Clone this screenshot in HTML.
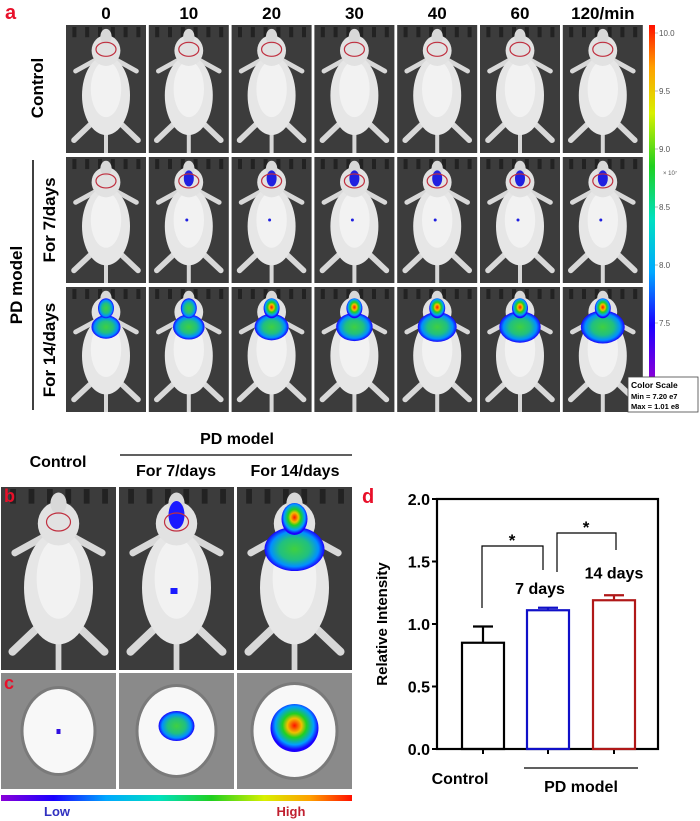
<!DOCTYPE html>
<html><head><meta charset="utf-8"><style>
html,body{margin:0;padding:0;background:#fff;width:700px;height:821px;overflow:hidden}
svg{display:block;font-family:"Liberation Sans",Arial,sans-serif}
</style></head><body>
<svg id="fig" width="700" height="821" viewBox="0 0 700 821">
<defs>
<linearGradient id="rainV" x1="0" y1="1" x2="0" y2="0">
<stop offset="0" stop-color="#8a00d8"/><stop offset="0.15" stop-color="#1a00ff"/><stop offset="0.3" stop-color="#00a8ff"/><stop offset="0.45" stop-color="#00e0c0"/><stop offset="0.6" stop-color="#20d020"/><stop offset="0.75" stop-color="#d8f000"/><stop offset="0.88" stop-color="#ffa000"/><stop offset="1" stop-color="#ff1000"/>
</linearGradient>
<linearGradient id="rainH" x1="0" y1="0" x2="1" y2="0">
<stop offset="0" stop-color="#8a00d8"/><stop offset="0.15" stop-color="#1a00ff"/><stop offset="0.3" stop-color="#00a8ff"/><stop offset="0.45" stop-color="#00e0c0"/><stop offset="0.6" stop-color="#20d020"/><stop offset="0.75" stop-color="#d8f000"/><stop offset="0.88" stop-color="#ffa000"/><stop offset="1" stop-color="#ff1000"/>
</linearGradient>
<radialGradient id="heat" cx="0.5" cy="0.45" r="0.5">
<stop offset="0" stop-color="#ff1000"/><stop offset="0.3" stop-color="#f0c000"/><stop offset="0.5" stop-color="#20d020"/><stop offset="0.8" stop-color="#00a0ff"/><stop offset="1" stop-color="#1a00ff"/>
</radialGradient>
<radialGradient id="heatG" cx="0.5" cy="0.5" r="0.5">
<stop offset="0" stop-color="#40d040"/><stop offset="0.5" stop-color="#20c080"/><stop offset="0.8" stop-color="#0090ff"/><stop offset="1" stop-color="#1a00ff"/>
</radialGradient>
</defs>
<g id="panelA"></g>
<g id="panelBC"></g>
<g id="chart"></g>
</svg>
<script>
// ---- chart data ----
const categories = ["Control", "7 days", "14 days"];
const values = [0.85, 1.11, 1.19];
const errors = [0.13, 0.02, 0.04];
const barColors = ["#000000", "#1010c8", "#b01818"];
const yTicks = [0.0, 0.5, 1.0, 1.5, 2.0];
const yTickLabels = ["0.0", "0.5", "1.0", "1.5", "2.0"];
const timeLabels = ["0","10","20","30","40","60","120/min"];
const scaleTicks = [10.0, 9.5, 9.0, 8.5, 8.0, 7.5];

const NS = "http://www.w3.org/2000/svg";
function el(parent, tag, attrs, text){
  const e = document.createElementNS(NS, tag);
  for (const k in attrs) e.setAttribute(k, attrs[k]);
  if (text !== undefined) e.textContent = text;
  parent.appendChild(e);
  return e;
}

function mouse(g, x, y, w, h){
  const c = "#d8d8d8";
  const cx = x + w/2;
  for (let i=0;i<6;i++){
    el(g,"rect",{x:x+w*0.08+i*w*0.16,y:y+2,width:w*0.05,height:h*0.08,fill:"#222"});
  }
  el(g,"line",{x1:cx,y1:y+h*0.8,x2:cx,y2:y+h,stroke:c,"stroke-width":w*0.05});
  el(g,"path",{d:`M${cx-w*0.2},${y+h*0.78} L${x+w*0.1},${y+h*0.9} M${cx+w*0.2},${y+h*0.78} L${x+w*0.9},${y+h*0.9}`,stroke:c,"stroke-width":w*0.07,fill:"none","stroke-linecap":"round"});
  el(g,"path",{d:`M${cx-w*0.12},${y+h*0.27} L${x+w*0.12},${y+h*0.36} M${cx+w*0.12},${y+h*0.27} L${x+w*0.88},${y+h*0.36}`,stroke:c,"stroke-width":w*0.06,fill:"none","stroke-linecap":"round"});
  el(g,"ellipse",{cx:cx,cy:y+h*0.55,rx:w*0.3,ry:h*0.31,fill:"#e6e6e6"});
  el(g,"ellipse",{cx:cx,cy:y+h*0.5,rx:w*0.19,ry:h*0.22,fill:"#f2f2f2"});
  el(g,"ellipse",{cx:cx,cy:y+h*0.2,rx:w*0.18,ry:h*0.12,fill:"#e2e2e2"});
  el(g,"ellipse",{cx:cx,cy:y+h*0.09,rx:w*0.07,ry:h*0.06,fill:"#d8d8d8"});
}

// ---- panel a ----
const A = document.getElementById("panelA");
el(A,"text",{x:5,y:19,fill:"#e8102a","font-size":20,"font-weight":"bold"},"a");
const tileX0 = 66, tileStep = 82.8, tileW = 80;
const rowsY = [[25,128],[157,126],[287,125]];
for (let c=0;c<7;c++){
  const t = el(A,"text",{x:tileX0+c*tileStep+tileW/2,y:19,"text-anchor":"middle","font-size":17,"font-weight":"bold"},timeLabels[c]);
  
  
}
for (let r=0;r<3;r++){
  for (let c=0;c<7;c++){
    const x = tileX0+c*tileStep, y=rowsY[r][0], h=rowsY[r][1];
    const g = el(A,"g",{});
    
    
    el(g,"rect",{x:x,y:y,width:tileW,height:h,fill:"#3c3c3c"});
    mouse(g,x,y,tileW,h);
    const cx=x+tileW/2;
    if (r===1 && c>0){
      el(g,"ellipse",{cx:cx,cy:y+h*0.17,rx:5,ry:8,fill:"#2020e0"});
      el(g,"circle",{cx:cx-2,cy:y+h*0.5,r:1.5,fill:"#2020e0"});
    }
    if (r===2){
      const s = 0.6+0.07*c;
      el(g,"ellipse",{cx:cx,cy:y+h*0.32,rx:tileW*0.22*s+4,ry:h*0.09*s+5,fill:"url(#heatG)"});
      el(g,"ellipse",{cx:cx,cy:y+h*0.17,rx:8,ry:10,fill:c>1?"url(#heat)":"url(#heatG)"});
    }
    if (r<2) el(g,"ellipse",{cx:cx,cy:y+h*0.19,rx:10,ry:7,fill:"none",stroke:"#c03040","stroke-width":1.2});
  }
}
const rl = [["Control",88],["For 7/days",220],["For 14/days",350]];
rl.forEach((d,i)=>{
  const t=el(A,"text",{transform:`translate(${i==0?43:55},${d[1]}) rotate(-90)`,"text-anchor":"middle","font-size":17,"font-weight":"bold"},d[0]);
  
  
});
el(A,"line",{x1:33,y1:160,x2:33,y2:410,stroke:"#000","stroke-width":1.5});
const pdA = el(A,"text",{transform:"translate(22,285) rotate(-90)","text-anchor":"middle","font-size":17,"font-weight":"bold"},"PD model");

el(A,"rect",{x:649,y:25,width:6,height:353,fill:"url(#rainV)"});
scaleTicks.forEach(v=>{
  const yy = 33 + (10.0-v)/0.5*58;
  el(A,"line",{x1:655,y1:yy,x2:658,y2:yy,stroke:"#888","stroke-width":0.6});
  el(A,"text",{x:659,y:yy+3,"font-size":8,fill:"#555"},v.toFixed(1));
});
el(A,"text",{x:663,y:175,"font-size":6,fill:"#555"},"× 10⁷");
const box = el(A,"g",{});


el(box,"rect",{x:628,y:377,width:70,height:35,fill:"#fff",stroke:"#444","stroke-width":0.8});
el(box,"text",{x:631,y:388,"font-size":8.5,"font-weight":"bold"},"Color Scale");
el(box,"text",{x:631,y:399,"font-size":7.5,"font-weight":"bold"},"Min = 7.20 e7");
el(box,"text",{x:631,y:409,"font-size":7.5,"font-weight":"bold"},"Max = 1.01 e8");

// ---- panels b & c ----
const B = document.getElementById("panelBC");
el(B,"text",{x:58,y:467,"text-anchor":"middle","font-size":16,"font-weight":"bold"},"Control");
el(B,"text",{x:237,y:444,"text-anchor":"middle","font-size":16,"font-weight":"bold"},"PD model");
el(B,"line",{x1:120,y1:455,x2:352,y2:455,stroke:"#000","stroke-width":1.2});
el(B,"text",{x:176,y:476,"text-anchor":"middle","font-size":16,"font-weight":"bold"},"For 7/days");
el(B,"text",{x:295,y:476,"text-anchor":"middle","font-size":16,"font-weight":"bold"},"For 14/days");
const bx=[1,119,237], bw=115;
for (let i=0;i<3;i++){
  const g=el(B,"g",{});
  
  
  el(g,"rect",{x:bx[i],y:487,width:bw,height:183,fill:"#3c3c3c"});
  mouse(g,bx[i],487,bw,183);
  const cx=bx[i]+bw/2;
  if(i===1){el(g,"ellipse",{cx:cx,cy:487+28,rx:8,ry:14,fill:"#1a1aff"});el(g,"rect",{x:cx-6,y:588,width:7,height:6,fill:"#1a1aff"});}
  if(i===2){el(g,"ellipse",{cx:cx,cy:487+62,rx:30,ry:22,fill:"url(#heatG)"});el(g,"ellipse",{cx:cx,cy:487+32,rx:13,ry:16,fill:"url(#heat)"});}
  if(i<2) el(g,"ellipse",{cx:cx,cy:487+35,rx:12,ry:9,fill:"none",stroke:"#c03040","stroke-width":1.2});
  const gc=el(B,"g",{});
  
  
  el(gc,"rect",{x:bx[i],y:673,width:bw,height:116,fill:"#8a8a8a"});
  el(gc,"ellipse",{cx:cx,cy:731,rx:38+i*3,ry:45+i*2,fill:"#7a7a7a"});
  el(gc,"ellipse",{cx:cx,cy:731,rx:35+i*3,ry:42+i*2,fill:"#f8f8f8"});
  if(i===0) el(gc,"rect",{x:cx-2,y:729,width:4,height:5,fill:"#3010e0"});
  if(i===1) el(gc,"ellipse",{cx:cx,cy:726,rx:18,ry:15,fill:"url(#heatG)"});
  if(i===2) el(gc,"ellipse",{cx:cx,cy:728,rx:24,ry:24,fill:"url(#heat)"});
}
el(B,"text",{x:4,y:502,fill:"#e8102a","font-size":18,"font-weight":"bold"},"b");
el(B,"text",{x:4,y:689,fill:"#e8102a","font-size":18,"font-weight":"bold"},"c");
el(B,"rect",{x:1,y:795,width:351,height:6,fill:"url(#rainH)"});
el(B,"text",{x:57,y:816,"text-anchor":"middle","font-size":13,"font-weight":"bold",fill:"#3030c0"},"Low");
el(B,"text",{x:291,y:816,"text-anchor":"middle","font-size":13,"font-weight":"bold",fill:"#c02030"},"High");

// ---- panel d chart ----
const C = document.getElementById("chart");
const x0=437, x1=658, yTop=499, yBot=749;
const yS = v => yBot - (v/2.0)*(yBot-yTop);
const centers = [483, 548, 614];
const xS = i => centers[i];
const bwid = 42;
el(C,"text",{x:362,y:503,fill:"#e8102a","font-size":20,"font-weight":"bold"},"d");
el(C,"rect",{x:x0,y:yTop,width:x1-x0,height:yBot-yTop,fill:"none",stroke:"#000","stroke-width":2.2});
yTicks.forEach((v,i)=>{
  const yy=yS(v);
  el(C,"line",{x1:x0-5,y1:yy,x2:x0,y2:yy,stroke:"#000","stroke-width":2});
  const t=el(C,"text",{x:x0-7,y:yy+6,"text-anchor":"end","font-size":16,"font-weight":"bold"},yTickLabels[i]);
  
  
});
const yt=el(C,"text",{transform:`translate(387,${(yTop+yBot)/2}) rotate(-90)`,"text-anchor":"middle","font-size":15,"font-weight":"bold"},"Relative Intensity");

values.forEach((v,i)=>{
  const cx=xS(i);
  el(C,"line",{x1:cx,y1:yBot,x2:cx,y2:yBot+5,stroke:"#000","stroke-width":2});
  const b=el(C,"rect",{x:cx-bwid/2,y:yS(v),width:bwid,height:yBot-yS(v),fill:"none",stroke:barColors[i],"stroke-width":2.2});
  
  
  const e=el(C,"path",{d:`M${cx},${yS(v)} L${cx},${yS(v+errors[i])} M${cx-10},${yS(v+errors[i])} L${cx+10},${yS(v+errors[i])}`,stroke:barColors[i],"stroke-width":2.2,fill:"none"});
  
});
el(C,"text",{x:xS(1)-8,y:yS(values[1]+errors[1])-14,"text-anchor":"middle","font-size":16,"font-weight":"bold"},categories[1]);
el(C,"text",{x:xS(2),y:yS(values[2]+errors[2])-17,"text-anchor":"middle","font-size":16,"font-weight":"bold"},categories[2]);
el(C,"path",{d:`M482,608 L482,546 L543,546 L543,570`,stroke:"#000","stroke-width":1.2,fill:"none"});
el(C,"text",{x:512,y:546,"text-anchor":"middle","font-size":17,"font-weight":"bold"},"*");
el(C,"path",{d:`M557,572 L557,533 L616,533 L616,550`,stroke:"#000","stroke-width":1.2,fill:"none"});
el(C,"text",{x:586,y:533,"text-anchor":"middle","font-size":17,"font-weight":"bold"},"*");
el(C,"text",{x:460,y:784,"text-anchor":"middle","font-size":16,"font-weight":"bold"},categories[0]);
el(C,"line",{x1:524,y1:768,x2:638,y2:768,stroke:"#000","stroke-width":1.2});
el(C,"text",{x:581,y:792,"text-anchor":"middle","font-size":16,"font-weight":"bold"},"PD model");
</script>
</body></html>
